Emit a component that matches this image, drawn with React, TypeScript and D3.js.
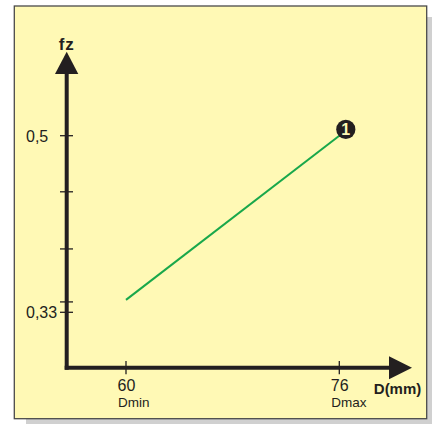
import React from "react";
import * as d3 from "d3";

const xTicks = [60, 76];
const xTickLabels = ["60", "76"];
const xSubLabels = ["Dmin", "Dmax"];
const yTicks = [0.5, 0.446, 0.391, 0.34, 0.33];
const yTickLabels = ["0,5", "", "", "", "0,33"];
const lineD = [60, 76];
const lineFz = [0.342, 0.5];
const markerLabel = "1";
const xAxisTitle = "D(mm)";
const yAxisTitle = "fz";

const W = 432;
const H = 424;
const AX = "#231f20";
const BG = "#fff9b5";
const GREEN = "#19a84b";
const FONT = "'Liberation Sans', Arial, sans-serif";

export default function App() {
  const x = d3.scaleLinear().domain([60, 76]).range([126, 339.3]);
  const y = d3.scaleLinear().domain([0.33, 0.5]).range([312.3, 135.7]);
  const axisX = 66.7;
  const axisY = 367.7;

  const pts: [number, number][] = lineD.map((d, i) => [x(d), y(lineFz[i])]);
  const linePath = d3.line()(pts) || "";
  const last = pts[pts.length - 1];

  return (
    <svg
      width={W}
      height={H}
      style={{ position: "absolute", left: 0, top: 0, display: "block", background: "#fff" }}
      fontFamily={FONT}
    >
      {/* shadow */}
      <rect x={26} y={17} width={406} height={407} fill="#d0d0d0" />
      {/* panel */}
      <rect x={14.3} y={6} width={412.4} height={412.7} fill={BG} stroke="#4a4a4a" strokeWidth={1.3} />

      {/* y ticks */}
      {yTicks.map((t, i) => (
        <g key={"yt" + i}>
          <line x1={60} x2={73} y1={y(t)} y2={y(t)} stroke={AX} strokeWidth={1.3} />
          {yTickLabels[i] && (
            <text x={26} y={y(t) + 6} fontSize={16} fill={AX}>
              {yTickLabels[i]}
            </text>
          )}
        </g>
      ))}

      {/* x ticks */}
      {xTicks.map((t, i) => (
        <g key={"xt" + i}>
          <line x1={x(t)} x2={x(t)} y1={361} y2={374.3} stroke={AX} strokeWidth={1.3} />
          <text x={x(t) - 8.5} y={390.5} fontSize={16} fill={AX}>
            {xTickLabels[i]}
          </text>
          <text x={x(t) - 8} y={406.5} fontSize={13.5} fill={AX}>
            {xSubLabels[i]}
          </text>
        </g>
      ))}

      {/* axes */}
      <line x1={axisX} x2={axisX} y1={70} y2={axisY + 2} stroke={AX} strokeWidth={4} />
      <line x1={axisX - 2} x2={392} y1={axisY} y2={axisY} stroke={AX} strokeWidth={4} />
      <path d={`M${axisX},51.7 L78.3,74 L55,74 Z`} fill={AX} />
      <path d={`M412,${axisY} L389,356.2 L389,379.2 Z`} fill={AX} />

      <text x={axisX} y={49.5} fontSize={17} fontWeight="bold" fill={AX} textAnchor="middle" letterSpacing={0.8}>
        {yAxisTitle}
      </text>
      <text x={373.8} y={393.5} fontSize={15} fontWeight="bold" fill={AX}>
        {xAxisTitle}
      </text>

      {/* data line */}
      <path d={linePath} fill="none" stroke={GREEN} strokeWidth={2} />

      {/* marker */}
      <g transform={`translate(${last[0] + 6.5},${last[1] - 6.3})`}>
        <circle r={9.6} fill={AX} />
        <text y={5.8} fontSize={16} fontWeight="bold" fill={BG} textAnchor="middle">
          {markerLabel}
        </text>
      </g>
    </svg>
  );
}
